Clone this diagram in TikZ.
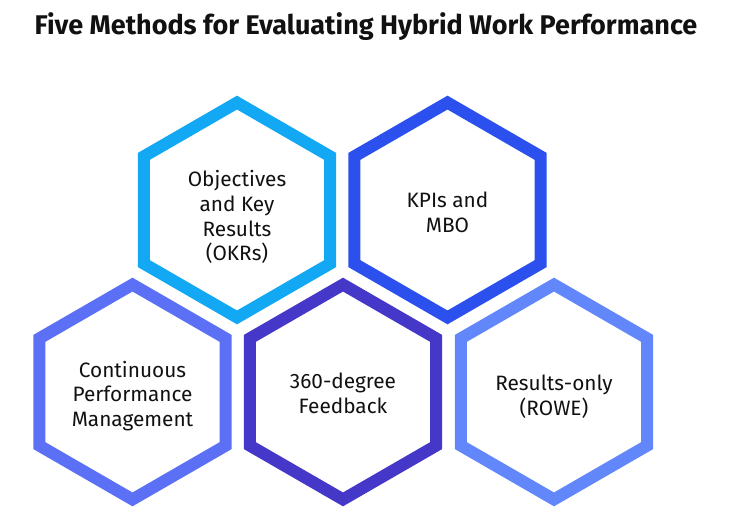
\documentclass[tikz,border=0pt]{standalone}
\usepackage{fontspec}
\setmainfont{Fira Sans}
\definecolor{cOKR}{HTML}{12A8F4}
\definecolor{cKPI}{HTML}{2B50EE}
\definecolor{cCPM}{HTML}{5C70F6}
\definecolor{cFB}{HTML}{4537C8}
\definecolor{cROWE}{HTML}{6287FA}
\definecolor{ink}{HTML}{111111}
\tikzset{
  hexline/.style={draw=#1, line width=12pt, line join=miter, fill=white},
  hextext/.style={align=center, text=ink, font=\fontsize{20.8}{24.8}\selectfont, inner sep=0pt},
  titletext/.style={text=ink, font=\fontsize{27}{30}\selectfont\bfseries, inner sep=0pt}
}
\newcommand{\hexat}[2]{%
  \draw[hexline=#2] (#1) ++(90:107.4pt) -- ++(210:107.4pt) -- ++(270:107.4pt)
    -- ++(330:107.4pt) -- ++(30:107.4pt) -- ++(90:107.4pt) -- cycle;}
\begin{document}
\begin{tikzpicture}[x=1pt,y=1pt]
  \useasboundingbox (0,0) rectangle (732,507);
  \fill[white] (0,0) rectangle (732,507);
  \node[titletext] (title) at (366,480) {Five Methods for Evaluating Hybrid Work Performance};
  \coordinate (okr) at (237,297);
  \coordinate (kpi) at (447.5,297);
  \coordinate (cpm) at (132.5,115);
  \coordinate (fb) at (343,115);
  \coordinate (rowe) at (554,115);
  \hexat{cpm}{cCPM}
  \hexat{fb}{cFB}
  \hexat{rowe}{cROWE}
  \hexat{okr}{cOKR}
  \hexat{kpi}{cKPI}
  \node[hextext] (tokr) at ([yshift=-7pt]okr) {Objectives\\and Key\\Results\\(OKRs)};
  \node[hextext] (tkpi) at ([yshift=-2pt]kpi) {KPIs and\\MBO};
  \node[hextext] (tcpm) at ([yshift=-4pt]cpm) {Continuous\\Performance\\Management};
  \node[hextext] (tfb) at ([yshift=-1pt]fb) {360-degree\\Feedback};
  \node[hextext] (trowe) at ([yshift=-5pt]rowe) {Results-only\\(ROWE)};
\end{tikzpicture}
\end{document}
